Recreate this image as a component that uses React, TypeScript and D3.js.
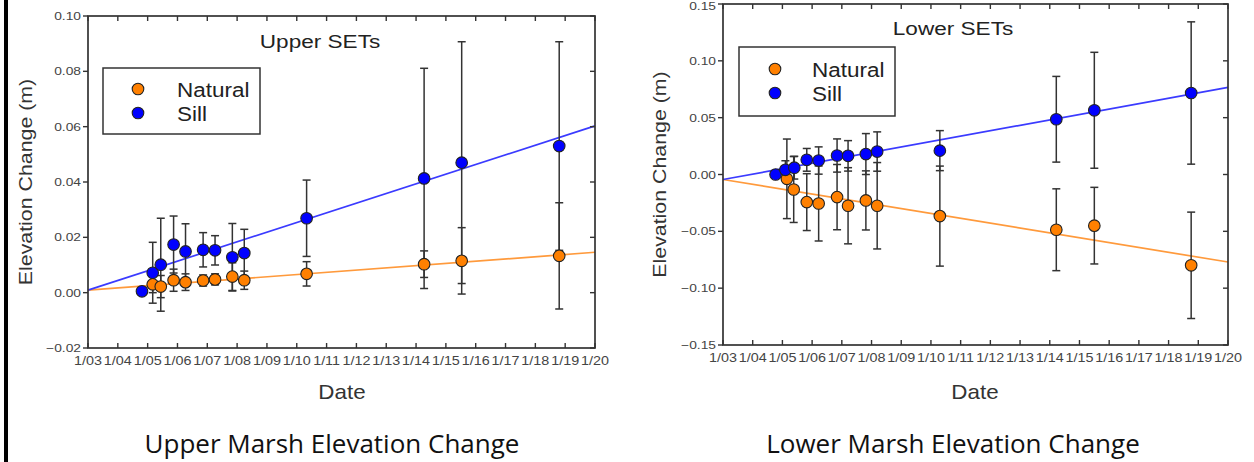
import React from 'react';
import * as d3 from 'd3';

// ---------- data ----------
const yearTickValues = d3.range(2003, 2021);
const yearTickLabels = ['1/03','1/04','1/05','1/06','1/07','1/08','1/09','1/10','1/11','1/12','1/13','1/14','1/15','1/16','1/17','1/18','1/19','1/20'];

const upperYTicks = [-0.02, 0.0, 0.02, 0.04, 0.06, 0.08, 0.10];
const lowerYTicks = [-0.15, -0.10, -0.05, 0.0, 0.05, 0.10, 0.15];

const upperSillDates = [2004.81, 2005.17, 2005.44, 2005.87, 2006.27, 2006.86, 2007.26, 2007.84, 2008.24, 2010.33, 2014.27, 2015.53, 2018.80];
const upperSill = [0.0005, 0.0072, 0.0101, 0.0174, 0.0149, 0.0155, 0.0153, 0.0128, 0.0143, 0.0269, 0.0413, 0.0470, 0.0530];
const upperSillErr = [0.001, 0.011, 0.0168, 0.0103, 0.0100, 0.0062, 0.0053, 0.0122, 0.0086, 0.0138, 0.0398, 0.0437, 0.0377];
const upperNatDates = [2005.17, 2005.44, 2005.87, 2006.27, 2006.86, 2007.26, 2007.84, 2008.24, 2010.33, 2014.27, 2015.53, 2018.80];
const upperNat = [0.0030, 0.0022, 0.0045, 0.0038, 0.0044, 0.0048, 0.0058, 0.0045, 0.0068, 0.0103, 0.0115, 0.0133];
const upperNatErr = [0.003, 0.004, 0.004, 0.003, 0.002, 0.002, 0.005, 0.0033, 0.0044, 0.0048, 0.012, 0.0192];
const upperSillFit = [0.0009, 0.0603];
const upperNatFit = [0.0009, 0.0146];

const lowerSillDates = [2004.77, 2005.10, 2005.40, 2005.82, 2006.22, 2006.84, 2007.21, 2007.81, 2008.19, 2010.30, 2014.22, 2015.50, 2018.76];
const lowerSill = [0.000, 0.0041, 0.006, 0.0129, 0.0123, 0.0167, 0.0164, 0.018, 0.0202, 0.021, 0.0486, 0.0565, 0.0717];
const lowerSillErr = [0.003, 0.008, 0.010, 0.010, 0.012, 0.0146, 0.0134, 0.018, 0.0173, 0.0176, 0.0377, 0.051, 0.0626];
const lowerNatDates = [2005.15, 2005.38, 2005.82, 2006.22, 2006.84, 2007.21, 2007.81, 2008.19, 2010.30, 2014.22, 2015.50, 2018.76];
const lowerNat = [-0.0038, -0.0132, -0.0243, -0.0255, -0.0199, -0.0275, -0.0228, -0.0275, -0.0366, -0.0486, -0.045, -0.0799];
const lowerNatErr = [0.035, 0.029, 0.025, 0.033, 0.0287, 0.0335, 0.026, 0.038, 0.044, 0.036, 0.0337, 0.0468];
const lowerSillFit = [-0.0044, 0.0767];
const lowerNatFit = [-0.0044, -0.077];

const seriesNames = ['Natural', 'Sill'];

const ORANGE = '#ff8000';
const BLUE = '#0000ff';
const ORANGE_LINE = '#ff9a3c';
const BLUE_LINE = '#3b3bff';
const INK = '#333333';
const FONT = 'Liberation Sans, Arial, sans-serif';

// text stretched horizontally (reference typography is wider than Arial)
function SText(props: { x: number; y: number; sx: number; size: number; anchor?: string; fill?: string; rotate?: number; family?: string; children: React.ReactNode }) {
  const { x, y, sx, size, anchor = 'start', fill = '#333', rotate = 0, family = FONT } = props;
  return (
    <text transform={`translate(${x},${y}) rotate(${rotate}) scale(${sx},1)`} textAnchor={anchor as any}
      fontFamily={family} fontSize={size} fill={fill}>{props.children}</text>
  );
}

type PanelProps = {
  x0: number; x1: number; y0: number; y1: number;
  yDomain: [number, number]; yTicks: number[];
  sillDates: number[]; sill: number[]; sillErr: number[];
  natDates: number[]; nat: number[]; natErr: number[];
  sillFit: number[]; natFit: number[];
  title: string; titleX: number; titleY: number;
  legend: { x: number; y: number; w: number; h: number; symX: number; textX: number; row1: number; row2: number };
  yLabelX: number; caption: string; captionX: number; dateX: number;
};

function Panel(p: PanelProps) {
  const xs = d3.scaleLinear().domain([2003, 2020]).range([p.x0, p.x1]);
  const ys = d3.scaleLinear().domain(p.yDomain).range([p.y1, p.y0]);
  const tick = 5;
  const fmt = d3.format('.2f');
  const line = d3.line<[number, number]>().x(d => xs(d[0])).y(d => ys(d[1]));
  const cap = 4;
  const errBars = (dates: number[], vals: number[], errs: number[], key: string) =>
    dates.map((d, i) => {
      const x = xs(d);
      const yt = ys(vals[i] + errs[i]);
      const yb = ys(vals[i] - errs[i]);
      return (
        <g key={key + i} stroke={INK} strokeWidth={1.5}>
          <line x1={x} x2={x} y1={yt} y2={yb} />
          <line x1={x - cap} x2={x + cap} y1={yt} y2={yt} />
          <line x1={x - cap} x2={x + cap} y1={yb} y2={yb} />
        </g>
      );
    });
  const dots = (dates: number[], vals: number[], color: string, key: string) =>
    dates.map((d, i) => (
      <circle key={key + i} cx={xs(d)} cy={ys(vals[i])} r={5.8} fill={color} stroke="#222" strokeWidth={1.1} />
    ));
  const midY = (p.y0 + p.y1) / 2;
  return (
    <g>
      <path d={line([[2003, p.natFit[0]], [2020, p.natFit[1]]])!} stroke={ORANGE_LINE} strokeWidth={1.7} fill="none" />
      <path d={line([[2003, p.sillFit[0]], [2020, p.sillFit[1]]])!} stroke={BLUE_LINE} strokeWidth={1.7} fill="none" />
      {errBars(p.natDates, p.nat, p.natErr, 'ne')}
      {errBars(p.sillDates, p.sill, p.sillErr, 'se')}
      {dots(p.natDates, p.nat, ORANGE, 'nd')}
      {dots(p.sillDates, p.sill, BLUE, 'sd')}
      <rect x={p.x0} y={p.y0} width={p.x1 - p.x0} height={p.y1 - p.y0} fill="none" stroke={INK} strokeWidth={1.7} />
      {yearTickValues.map((v, i) => (
        <g key={'xt' + i}>
          <line x1={xs(v)} x2={xs(v)} y1={p.y1} y2={p.y1 - tick} stroke={INK} strokeWidth={1.4} />
          <line x1={xs(v)} x2={xs(v)} y1={p.y0} y2={p.y0 + tick} stroke={INK} strokeWidth={1.4} />
          <SText x={xs(v)} y={p.y1 + 17} sx={1.15} size={12.5} anchor="middle" fill="#444">{yearTickLabels[i]}</SText>
        </g>
      ))}
      {p.yTicks.map((v, i) => (
        <g key={'yt' + i}>
          <line x1={p.x0 - tick} x2={p.x0} y1={ys(v)} y2={ys(v)} stroke={INK} strokeWidth={1.4} />
          <line x1={p.x1 - tick} x2={p.x1} y1={ys(v)} y2={ys(v)} stroke={INK} strokeWidth={1.4} />
          <SText x={p.x0 - 7} y={Math.max(ys(v) + 4, 10)} sx={1.2} size={11.5} anchor="end" fill="#444">{fmt(v)}</SText>
        </g>
      ))}
      <SText x={p.titleX} y={p.titleY} sx={1.22} size={18.5} anchor="middle" fill="#222">{p.title}</SText>
      <rect x={p.legend.x} y={p.legend.y} width={p.legend.w} height={p.legend.h} fill="white" stroke={INK} strokeWidth={1.5} />
      <circle cx={p.legend.symX} cy={p.legend.row1} r={5.8} fill={ORANGE} stroke="#222" strokeWidth={1.1} />
      <circle cx={p.legend.symX} cy={p.legend.row2} r={5.8} fill={BLUE} stroke="#222" strokeWidth={1.1} />
      <SText x={p.legend.textX} y={p.legend.row1 + 7.5} sx={1.07} size={21} fill="#222">{seriesNames[0]}</SText>
      <SText x={p.legend.textX} y={p.legend.row2 + 7.5} sx={1.07} size={21} fill="#222">{seriesNames[1]}</SText>
      <SText x={p.yLabelX + 6} y={midY} rotate={-90} sx={1.22} size={17.5} anchor="middle" fill="#333">Elevation Change (m)</SText>
      <SText x={p.dateX} y={399} sx={1.12} size={20} anchor="middle" fill="#333">Date</SText>
      <text x={p.captionX} y={453} textAnchor="middle" fontFamily="Open Sans, Noto Sans, sans-serif" fontSize={26} fill="#111">{p.caption}</text>
    </g>
  );
}

export default function App() {
  return (
    <svg width={1254} height={462} style={{ position: 'absolute', left: 0, top: 0, background: 'white' }}>
      <rect x={0} y={0} width={1254} height={462} fill="white" />
      <rect x={4} y={0} width={4} height={462} fill="#000" />
      <Panel
        x0={88} x1={595} y0={16} y1={348}
        yDomain={[-0.02, 0.10]} yTicks={upperYTicks}
        sillDates={upperSillDates} sill={upperSill} sillErr={upperSillErr}
        natDates={upperNatDates} nat={upperNat} natErr={upperNatErr}
        sillFit={upperSillFit} natFit={upperNatFit}
        title="Upper SETs" titleX={320} titleY={48}
        legend={{ x: 103, y: 68, w: 157, h: 66, symX: 138, textX: 177, row1: 89, row2: 113 }}
        yLabelX={26} caption="Upper Marsh Elevation Change" captionX={332} dateX={342}
      />
      <Panel
        x0={723} x1={1228} y0={4} y1={345}
        yDomain={[-0.15, 0.15]} yTicks={lowerYTicks}
        sillDates={lowerSillDates} sill={lowerSill} sillErr={lowerSillErr}
        natDates={lowerNatDates} nat={lowerNat} natErr={lowerNatErr}
        sillFit={lowerSillFit} natFit={lowerNatFit}
        title="Lower SETs" titleX={953} titleY={35}
        legend={{ x: 739, y: 47, w: 156, h: 69, symX: 775, textX: 812, row1: 69, row2: 93 }}
        yLabelX={660} caption="Lower Marsh Elevation Change" captionX={953} dateX={975}
      />
    </svg>
  );
}
